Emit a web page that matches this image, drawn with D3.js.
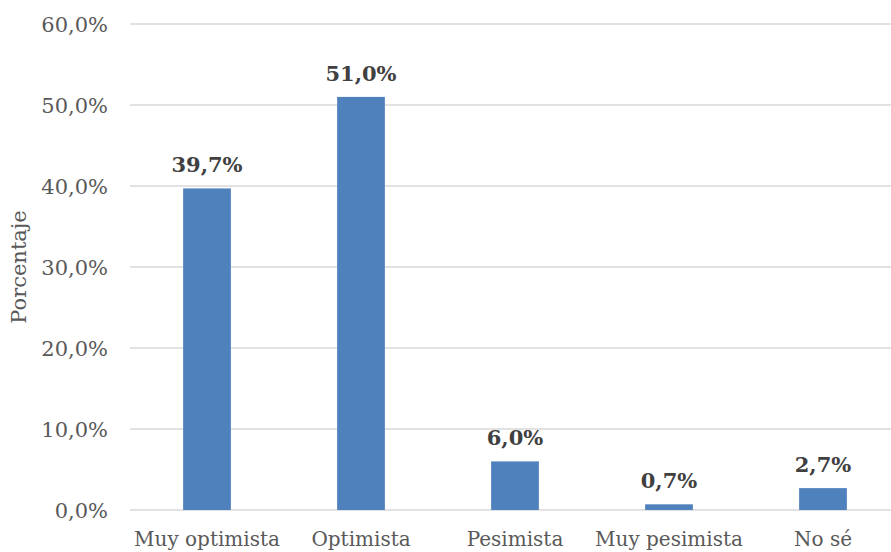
<!DOCTYPE html>
<html>
<head>
<meta charset="utf-8">
<script src="https://cdn.jsdelivr.net/npm/d3@7"></script>
<style>
  body { margin: 0; background: #fff; }
  svg text { font-family: "DejaVu Serif", serif; }
</style>
</head>
<body>
<div id="chart"></div>
<script>
// data
var categories = ["Muy optimista", "Optimista", "Pesimista", "Muy pesimista", "No sé"];
var values = [39.7, 51.0, 6.0, 0.7, 2.7];
var yTicks = [0, 10, 20, 30, 40, 50, 60];

var width = 891, height = 552;
var margin = {top: 24, right: -9, bottom: 42, left: 130};

var svg = d3.select("#chart").append("svg")
    .attr("width", width)
    .attr("height", height);

var x = d3.scaleBand()
    .domain(categories)
    .range([margin.left, width - margin.right])
    .paddingInner(0.69)
    .paddingOuter(0.345);

var y = d3.scaleLinear()
    .domain([0, 60])
    .range([height - margin.bottom, margin.top]);

var fmt = function(v) { return v.toFixed(1).replace(".", ",") + "%"; };

// gridlines
svg.append("g").selectAll("line")
    .data(yTicks)
  .enter().append("line")
    .attr("x1", margin.left)
    .attr("x2", width)
    .attr("y1", function(d) { return y(d); })
    .attr("y2", function(d) { return y(d); })
    .attr("stroke", "#d9d9d9")
    .attr("stroke-width", 1.3);

// y axis labels
svg.append("g").selectAll("text")
    .data(yTicks)
  .enter().append("text")
    .attr("x", 108)
    .attr("y", function(d) { return y(d); })
    .attr("dy", "0.36em")
    .attr("text-anchor", "end")
    .attr("fill", "#595959")
    .style("font-size", "21px")
    .text(fmt);

// bars
svg.append("g").selectAll("rect")
    .data(values)
  .enter().append("rect")
    .attr("x", function(d, i) { return x(categories[i]); })
    .attr("width", x.bandwidth())
    .attr("y", function(d) { return y(d); })
    .attr("height", function(d) { return y(0) - y(d); })
    .attr("fill", "#4f81bd");

// data labels
svg.append("g").selectAll("text")
    .data(values)
  .enter().append("text")
    .attr("x", function(d, i) { return x(categories[i]) + x.bandwidth() / 2; })
    .attr("y", function(d) { return y(d) - 16; })
    .attr("text-anchor", "middle")
    .attr("fill", "#404040")
    .style("font-size", "21px")
    .style("font-weight", "bold")
    .text(fmt);

// category labels
svg.append("g").selectAll("text")
    .data(categories)
  .enter().append("text")
    .attr("x", function(d) { return x(d) + x.bandwidth() / 2; })
    .attr("y", 546)
    .attr("text-anchor", "middle")
    .attr("fill", "#595959")
    .style("font-size", "20px")
    .text(function(d) { return d; });

// y axis title
svg.append("text")
    .attr("transform", "translate(26," + y(30) + ") rotate(-90)")
    .attr("text-anchor", "middle")
    .attr("fill", "#595959")
    .style("font-size", "21px")
    .text("Porcentaje");
</script>
</body>
</html>
